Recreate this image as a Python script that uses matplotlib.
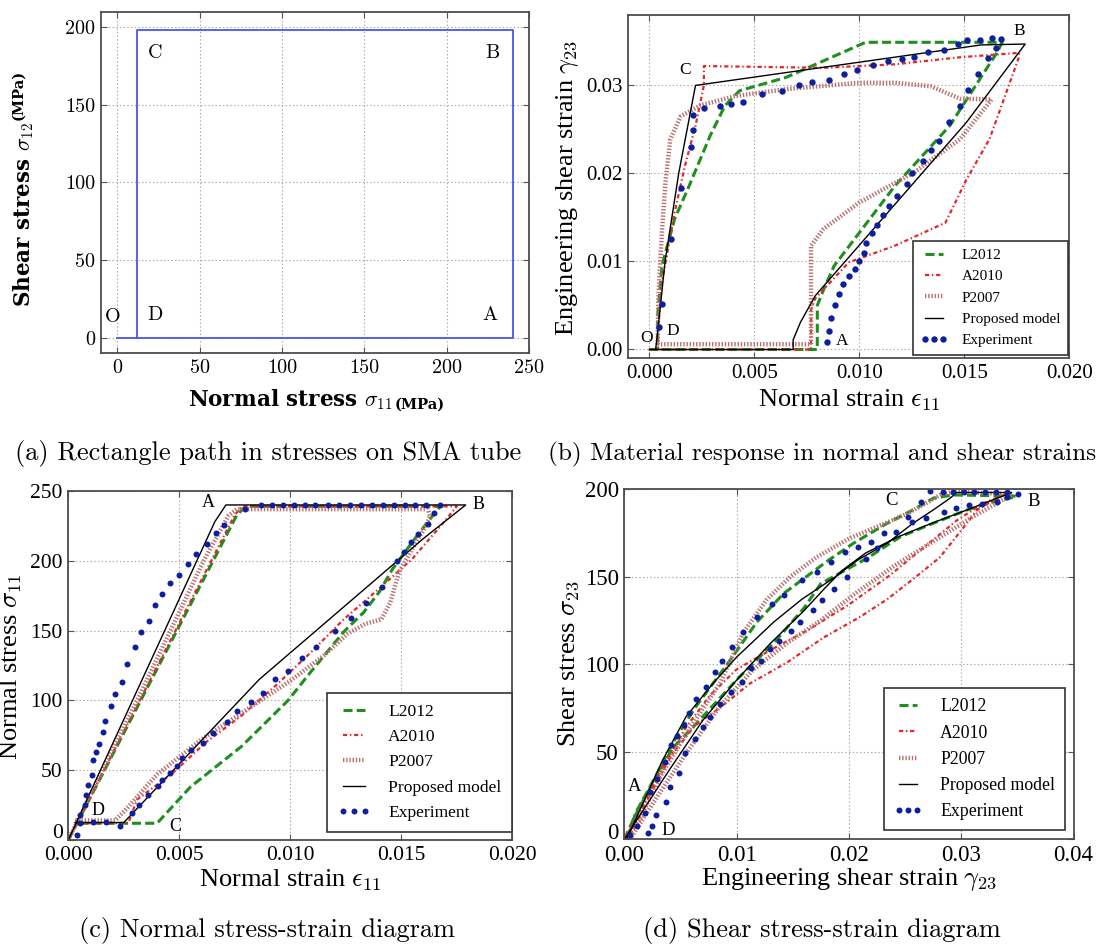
import matplotlib
matplotlib.use("Agg")
import matplotlib.pyplot as plt
from matplotlib.ticker import FormatStrFormatter, FuncFormatter, MultipleLocator

plt.rcParams["font.family"] = ["Liberation Serif", "DejaVu Serif"]
plt.rcParams["mathtext.fontset"] = "cm"
plt.rcParams["lines.scale_dashes"] = False

# ---------------- (a) stress path ----------------
path_sig11 = [0, 12, 240, 240, 12, 12]
path_sig12 = [0, 0, 0, 198, 198, 0]
pts_a = {"O": (-2.5, 13.5), "D": (23, 14.5), "A": (226, 14.5), "C": (23, 183), "B": (228, 183)}

# ---------------- (b) normal strain vs shear strain ----------------
b_l2012_x = [0.0, 0.0080, 0.0080, 0.0083, 0.0088, 0.0117, 0.0143, 0.0166, 0.0168, 0.0103, 0.0065,
             0.0043, 0.0036, 0.0029, 0.0019, 0.0012, 0.0006, 0.0004, 0.0004]
b_l2012_y = [0.0, 0.0, 0.0050, 0.0068, 0.0095, 0.0186, 0.0254, 0.0339, 0.0349, 0.0349, 0.0309,
             0.0294, 0.0277, 0.0243, 0.0186, 0.0148, 0.0095, 0.0038, 0.0]
b_a2010_x = [0.0, 0.0077, 0.0077, 0.0079, 0.0095, 0.0117, 0.0141, 0.0151, 0.0162, 0.0170, 0.0176,
             0.0176, 0.0148, 0.0117, 0.0083, 0.0026, 0.0026, 0.0022, 0.0017, 0.0012, 0.0006, 0.0004, 0.0004]
b_a2010_y = [0.0, 0.0, 0.0045, 0.0058, 0.0099, 0.0118, 0.0144, 0.0193, 0.0239, 0.0292, 0.0332,
             0.0337, 0.0332, 0.0324, 0.0320, 0.0322, 0.0300, 0.0254, 0.0209, 0.0155, 0.0076, 0.0019, 0.0]
b_p2007_x = [0.0004, 0.0077, 0.0077, 0.0083, 0.0100, 0.0126, 0.0148, 0.0163, 0.0148, 0.0141, 0.0134,
             0.0117, 0.0100, 0.0066, 0.0041, 0.0024, 0.0015, 0.0010, 0.00077, 0.0006, 0.00043, 0.0004]
b_p2007_y = [0.0006, 0.0006, 0.0118, 0.0137, 0.0167, 0.0201, 0.0239, 0.0284, 0.0285, 0.0292, 0.0299,
             0.0303, 0.0303, 0.0296, 0.0288, 0.0277, 0.0265, 0.0239, 0.0190, 0.0133, 0.0057, 0.0006]
b_prop_x = [0.0, 0.00685, 0.00685, 0.0072, 0.0079, 0.0151, 0.0179, 0.0158, 0.0022, 0.0014, 0.00075,
            0.0004, 0.0003]
b_prop_y = [0.0, 0.0, 0.0011, 0.0031, 0.0061, 0.0258, 0.0347, 0.0346, 0.0300, 0.0200, 0.0100,
            0.0020, 0.0]
b_exp_x = [0.00844, 0.00854, 0.00867, 0.00883, 0.00901, 0.00923, 0.00949, 0.00978, 0.01000, 0.01024,
           0.01034, 0.01060, 0.01082, 0.01114, 0.01143, 0.01179, 0.01225, 0.01253, 0.01301, 0.01340,
           0.01381, 0.01425, 0.01480, 0.01519, 0.01565, 0.01612, 0.01650, 0.01675, 0.01633, 0.01573,
           0.01514, 0.01471, 0.01403, 0.01327, 0.01259, 0.01204, 0.01139, 0.01066, 0.00988, 0.00927,
           0.00855, 0.00776, 0.00711, 0.00634, 0.00539, 0.00447, 0.00391, 0.00337, 0.00259, 0.00207,
           0.00209, 0.00199, 0.00150, 0.00105, 0.00061, 0.00044]
b_exp_y = [0.00087, 0.00209, 0.00353, 0.00504, 0.00626, 0.00739, 0.00834, 0.00918, 0.01005, 0.01092,
           0.01213, 0.01327, 0.01414, 0.01528, 0.01631, 0.01744, 0.01877, 0.02010, 0.02146, 0.02264,
           0.02370, 0.02590, 0.02761, 0.02950, 0.03128, 0.03307, 0.03424, 0.03527, 0.03538, 0.03519,
           0.03519, 0.03473, 0.03405, 0.03382, 0.03326, 0.03303, 0.03276, 0.03231, 0.03174, 0.03128,
           0.03056, 0.03041, 0.03003, 0.02939, 0.02901, 0.02814, 0.02787, 0.02761, 0.02738, 0.02662,
           0.02495, 0.02302, 0.01835, 0.01251, 0.00520, 0.00258]
pts_b = {"O": (-0.00012, 0.0013), "D": (0.00114, 0.0021), "A": (0.00916, 0.0010),
         "C": (0.0017, 0.0317), "B": (0.0176, 0.0362)}

# ---------------- (c) normal stress-strain ----------------
c_l2012_x = [0.0, 0.0076, 0.0080, 0.01675, 0.0163, 0.0155, 0.0146, 0.0140, 0.0133, 0.0124, 0.0109,
             0.0099, 0.0078, 0.0055, 0.0040, 0.0003]
c_l2012_y = [0, 233, 239, 239, 230, 213.5, 194, 177.5, 163, 149, 120, 100, 67, 38, 12, 12]
c_a2010_x = [0.0, 0.0075, 0.00785, 0.0175, 0.0168, 0.0155, 0.0140, 0.0124, 0.0109, 0.0093, 0.0078,
             0.0062, 0.0047, 0.0031, 0.0027, 0.0003]
c_a2010_y = [0, 233, 239, 239, 225.5, 201.5, 180, 158, 134, 110, 89, 70, 48, 29, 12, 12]
c_p2007_x = [0.0, 0.0031, 0.0061, 0.0072, 0.0076, 0.0162, 0.0163, 0.0160, 0.0154, 0.0149, 0.0145,
             0.0141, 0.0134, 0.0126, 0.0115, 0.0100, 0.0080, 0.0060, 0.0040, 0.0026, 0.0021, 0.0003]
c_p2007_y = [0, 100, 200, 232, 237, 237, 232, 222, 206, 192, 170, 158, 155, 148, 132, 114, 93, 72,
             47, 22, 14, 14]
c_prop_x = [0.0, 0.0066, 0.0071, 0.0179, 0.0160, 0.0086, 0.0025, 0.0003]
c_prop_y = [0, 228, 240, 240, 216, 115, 12.5, 12.5]
c_exp_x = [0.00037, 0.00054, 0.00073, 0.00080, 0.00090, 0.00108, 0.00111, 0.00124, 0.00139, 0.00158,
           0.00166, 0.00192, 0.00211, 0.00243, 0.00266, 0.00302, 0.00328, 0.00362, 0.00390, 0.00421,
           0.00457, 0.00498, 0.00540, 0.00576, 0.00625, 0.00664, 0.00700, 0.00796,
           0.0087, 0.00919, 0.00967, 0.01017, 0.01065, 0.01113, 0.01172, 0.0122, 0.01268, 0.01319,
           0.01368, 0.01416, 0.01466, 0.01517, 0.01563, 0.01613, 0.01675,
           0.01647, 0.01621, 0.01574, 0.01543, 0.01512, 0.01481, 0.01412, 0.01342, 0.01272, 0.01203,
           0.01118, 0.01053, 0.00988, 0.00929, 0.00878, 0.00824, 0.00762, 0.00715, 0.00653, 0.00607,
           0.00553, 0.00514, 0.00488, 0.00457, 0.00424, 0.00402, 0.00359, 0.00319, 0.00289, 0.00231,
           0.0017, 0.00111, 0.00053]
c_exp_y = [3.6, 18, 25, 32.4, 39.6, 46.8, 57.6, 62.9, 69, 77.5, 85.2, 96, 104.8, 113.5, 126.4, 138.4,
           148.7, 157.1, 168.4, 176, 184, 190, 198, 205, 212, 220, 225.5, 237,
           240, 240, 240, 240, 240, 240, 240, 240, 240, 240, 240, 240, 240, 240, 240, 240, 240,
           234, 226.7, 219.5, 213.5, 206, 199.6, 181, 170, 158.8, 150, 138, 130.3, 121, 115, 105.6,
           98.8, 92.4, 84.4, 76.3, 69.6, 64.8, 58.8, 52.8, 48, 43, 38.4, 32.4, 25.2, 19.2, 10.3,
           12.7, 13.2, 12.0]
pts_c = {"A": (0.0063, 241.8), "B": (0.01848, 240), "C": (0.00484, 9.5), "D": (0.00132, 20.8)}

# ---------------- (d) shear stress-strain ----------------
d_l2012_x = [0.0, 0.0010, 0.0028, 0.0043, 0.0067, 0.0100, 0.0133, 0.0160, 0.0175, 0.0216, 0.0246,
             0.0275, 0.0305, 0.0329, 0.0349, 0.0347, 0.0293, 0.0275, 0.0257, 0.0234, 0.0204, 0.0180,
             0.0158, 0.0142, 0.0118, 0.0094, 0.0064, 0.0043, 0.0028, 0.0010, 0.0003]
d_l2012_y = [0, 14, 35, 52, 68, 91, 112, 132, 146, 160.4, 172.8, 180.4, 188, 192.8, 195.6, 196, 196.6,
             194.7, 188, 180.4, 169, 158.5, 148, 140.4, 124, 102, 76, 55, 36, 15, 0]
d_a2010_x = [0.0004, 0.0020, 0.0042, 0.0063, 0.0085, 0.0112, 0.0145, 0.0177, 0.0210, 0.0234, 0.0260,
             0.0281, 0.0302, 0.0314, 0.0335, 0.0345, 0.0340, 0.0320, 0.0296, 0.0275, 0.0237, 0.0200,
             0.0165, 0.0130, 0.0100, 0.0076, 0.0055, 0.0035, 0.0015, 0.0]
d_a2010_y = [0, 22, 48, 65, 75, 89, 101, 115, 127, 137, 150, 161, 178, 188, 196, 197.5, 197, 192, 182,
             171, 151, 134, 120, 108, 97, 82, 64, 42, 18, 0]
d_p2007_x = [0.0005, 0.0030, 0.0055, 0.0085, 0.0115, 0.0145, 0.0175, 0.0205, 0.0240, 0.0280, 0.0310,
             0.0335, 0.0345, 0.0293, 0.0281, 0.0269, 0.0252, 0.0231, 0.0201, 0.0171, 0.0148, 0.0127,
             0.0106, 0.0085, 0.0055, 0.0034, 0.0013, 0.0]
d_p2007_y = [0, 25, 49, 76, 97, 112, 125, 140, 156, 172, 184, 193, 197, 198.5, 196.5, 192, 186, 180,
             172, 161, 150, 137, 118, 89, 60, 38, 11, 0]
d_prop_x = [0.0, 0.0040, 0.0070, 0.0100, 0.0130, 0.0160, 0.0178, 0.0194, 0.0215, 0.0245, 0.0274,
            0.0305, 0.0325, 0.0345, 0.0296, 0.0290, 0.0275, 0.0257, 0.0234, 0.0208, 0.0186, 0.0158,
            0.0133, 0.0100, 0.0079, 0.0055, 0.0034, 0.0002]
d_prop_y = [0, 39.5, 68, 90.9, 111.8, 130.5, 143, 153.5, 163.5, 173, 180.5, 188, 193, 198, 198, 194.7,
            188, 180.4, 169, 159.5, 149, 137, 124, 104, 89, 70, 45, 0]
d_exp_x = [0.0005, 0.0011, 0.0018, 0.0023, 0.0029, 0.00358, 0.00418, 0.00469, 0.00531, 0.00573,
           0.00636, 0.00725, 0.00806, 0.00872, 0.00956, 0.0106, 0.01184, 0.01313, 0.01425, 0.0158,
           0.01713, 0.0184, 0.01965, 0.02084, 0.02194, 0.02315, 0.02417, 0.02529, 0.02642, 0.02722,
           0.02835, 0.0293, 0.03025, 0.03117, 0.03212, 0.0331, 0.03405, 0.03509,
           0.03405, 0.03316, 0.03183, 0.03072, 0.02954, 0.02847, 0.02687, 0.02565, 0.02247, 0.0215,
           0.0198, 0.0187, 0.01763, 0.01678, 0.01565, 0.01484, 0.01378, 0.01297, 0.01217, 0.01126,
           0.01051, 0.0095, 0.00852, 0.00763, 0.00698, 0.0063, 0.00537, 0.00487, 0.0041, 0.0037,
           0.0028, 0.0025, 0.0021]
d_exp_y = [2.5, 7.8, 14.8, 27.2, 34.2, 44.1, 53.8, 58.9, 65.4, 72.2, 80, 86.7, 95.6, 101.7, 110, 118.5,
           127.1, 134.3, 139.5, 148, 152.8, 158.5, 164.2, 167, 169.9, 174.7, 175.6, 183.8, 192.8, 199,
           198.5, 198.5, 198.5, 198.5, 198.5, 198.5, 198.5, 197.1,
           195.3, 192.8, 191.4, 190.9, 189, 186.7, 183.6, 181, 166.1, 159.9, 150, 142.9, 136.6, 130.9,
           124.2, 118.9, 113.4, 108.5, 101.8, 97.6, 89.6, 83.9, 77.2, 69.6, 63.9, 57.5, 49, 38, 30,
           21.5, 13.9, 7.8, 3.4]
pts_d = {"A": (0.00095, 30), "B": (0.0365, 192.7), "C": (0.0238, 193.7), "D": (0.00392, 5.3)}

labels = ["L2012", "A2010", "P2007", "Proposed model", "Experiment"]

W, H = 1097, 948
fig = plt.figure(figsize=(W / 100, H / 100), dpi=100)


def add_ax(l, t, r, b):
    return fig.add_axes([l / W, 1 - b / H, (r - l) / W, (b - t) / H])


def style(ax, tick_size, family=None):
    ax.grid(True, color="#a8a8a8", linestyle=":", linewidth=0.8)
    ax.set_axisbelow(True)
    kw = dict(direction="in", length=4, width=0.8, top=True, right=True,
              color="#555555", labelsize=tick_size, pad=4)
    if family:
        kw["labelfontfamily"] = family
    ax.tick_params(**kw)
    for s in ax.spines.values():
        s.set_color("#4d4d4d")
        s.set_linewidth(1.3)


def models(ax, l2012, a2010, p2007, prop, exp, ms):
    ax.plot(*l2012, color="#1f8f1f", lw=2.2, dashes=(6.5, 3), label=labels[0])
    ax.plot(*a2010, color="#e3262a", lw=1.6, dashes=(3, 2, 1, 2), label=labels[1])
    ax.plot(*p2007, color="#b9716f", lw=3.2, dashes=(1.0, 1.3), label=labels[2])
    ax.plot(*prop, color="black", lw=1.0, label=labels[3])
    ax.plot(*exp, "o", color="#0d1f9c", ms=ms, mew=0, label=labels[4])


def legend(ax, size, anchor, hl, htp, bp, ls):
    leg = ax.legend(loc="lower right", bbox_to_anchor=anchor, borderaxespad=0,
                    fontsize=size, numpoints=3, fancybox=False, framealpha=1,
                    edgecolor="#333333", handlelength=hl, handletextpad=htp,
                    borderpad=bp, labelspacing=ls)
    leg.get_frame().set_linewidth(1.2)


def zero_lifted(ax, size):
    # the y "0" sits just above the x "0.000" in the corner
    ax.yaxis.set_major_formatter(FuncFormatter(lambda v, p: "" if v == 0 else "%d" % v))
    ax.annotate("0", xy=(0, 0), xycoords=ax.get_yaxis_transform(), xytext=(-4, 4.5),
                textcoords="offset points", ha="right", va="center", fontsize=size)


# (a)
ax_a = add_ax(100.7, 11.6, 529, 353.3)
ax_a.plot(path_sig11, path_sig12, color="#4b55ef", lw=1.3)
ax_a.set_xlim(-10, 250)
ax_a.set_ylim(-10, 210)
ax_a.xaxis.set_major_locator(MultipleLocator(50))
ax_a.yaxis.set_major_locator(MultipleLocator(50))
style(ax_a, 14.5, "cmr10")
for k, (x, y) in pts_a.items():
    ax_a.text(x, y, k, ha="center", va="center", fontsize=14.5, family="cmr10")
xl_a = ax_a.text(0.204, -0.137, r"Normal stress $\sigma_{11}$", transform=ax_a.transAxes,
                 ha="left", va="center", fontsize=15.5, family="DejaVu Serif", weight="bold")
yl_a = ax_a.text(-0.181, 0.136, r"Shear stress $\sigma_{12}$", transform=ax_a.transAxes,
                 ha="center", va="bottom", rotation=90, fontsize=15.5, family="DejaVu Serif",
                 weight="bold")

# (b)
ax_b = add_ax(628.3, 15, 1069.3, 358.3)
models(ax_b, (b_l2012_x, b_l2012_y), (b_a2010_x, b_a2010_y), (b_p2007_x, b_p2007_y),
       (b_prop_x, b_prop_y), (b_exp_x, b_exp_y), 4.6)
ax_b.set_xlim(-0.001, 0.020)
ax_b.set_ylim(-0.001, 0.038)
ax_b.xaxis.set_major_locator(MultipleLocator(0.005))
ax_b.yaxis.set_major_locator(MultipleLocator(0.01))
ax_b.xaxis.set_major_formatter(FormatStrFormatter("%.3f"))
ax_b.yaxis.set_major_formatter(FormatStrFormatter("%.2f"))
style(ax_b, 15)
ax_b.set_xlabel(r"Normal strain $\epsilon_{11}$", fontsize=19, va="center")
ax_b.xaxis.set_label_coords(0.5, -0.121)
ax_b.set_ylabel(r"Engineering shear strain $\gamma_{23}$", fontsize=19, va="center")
ax_b.yaxis.set_label_coords(-0.139, 0.496)
for k, (x, y) in pts_b.items():
    ax_b.text(x, y, k, ha="center", va="center", fontsize=12.5)
legend(ax_b, 11, (0.997, 0.0096), 1.8, 0.92, 0.5, 0.5)

# (c)
ax_c = add_ax(68.3, 491, 512.3, 840)
models(ax_c, (c_l2012_x, c_l2012_y), (c_a2010_x, c_a2010_y), (c_p2007_x, c_p2007_y),
       (c_prop_x, c_prop_y), (c_exp_x, c_exp_y), 4.3)
ax_c.set_xlim(0, 0.020)
ax_c.set_ylim(0, 250)
ax_c.xaxis.set_major_locator(MultipleLocator(0.005))
ax_c.yaxis.set_major_locator(MultipleLocator(50))
ax_c.xaxis.set_major_formatter(FormatStrFormatter("%.3f"))
style(ax_c, 15.5)
zero_lifted(ax_c, 15.5)
ax_c.set_xlabel(r"Normal strain $\epsilon_{11}$", fontsize=19, va="center")
ax_c.xaxis.set_label_coords(0.5, -0.115)
ax_c.set_ylabel(r"Normal stress $\sigma_{11}$", fontsize=19, va="center")
ax_c.yaxis.set_label_coords(-0.129, 0.497)
for k, (x, y) in pts_c.items():
    ax_c.text(x, y, k, ha="center", va="center", fontsize=13)
legend(ax_c, 12.6, (0.999, 0.0238), 1.9, 1.0, 0.6, 0.52)

# (d)
ax_d = add_ax(624.3, 489, 1073.5, 839.3)
models(ax_d, (d_l2012_x, d_l2012_y), (d_a2010_x, d_a2010_y), (d_p2007_x, d_p2007_y),
       (d_prop_x, d_prop_y), (d_exp_x, d_exp_y), 4.3)
ax_d.set_xlim(0, 0.04)
ax_d.set_ylim(0, 200)
ax_d.xaxis.set_major_locator(MultipleLocator(0.01))
ax_d.yaxis.set_major_locator(MultipleLocator(50))
ax_d.xaxis.set_major_formatter(FormatStrFormatter("%.2f"))
style(ax_d, 16.5)
zero_lifted(ax_d, 16.5)
ax_d.set_xlabel(r"Engineering shear strain $\gamma_{23}$", fontsize=19, va="center")
ax_d.xaxis.set_label_coords(0.5, -0.116)
ax_d.set_ylabel(r"Shear stress $\sigma_{23}$", fontsize=19, va="center")
ax_d.yaxis.set_label_coords(-0.125, 0.5)
for k, (x, y) in pts_d.items():
    ax_d.text(x, y, k, ha="center", va="center", fontsize=13.5)
legend(ax_d, 12.8, (0.981, 0.0265), 1.6, 1.0, 0.55, 0.52)

# captions
cap = dict(family="cmr10", va="baseline")
fig.text(268 / W, 1 - 460.5 / H, "(a) Rectangle path in stresses on SMA tube", ha="center",
         fontsize=19, **cap)
fig.text(1096 / W, 1 - 460 / H, "(b) Material response in normal and shear strains", ha="right",
         fontsize=18.2, **cap)
fig.text(266.7 / W, 1 - 937 / H, "(c) Normal stress-strain diagram", ha="center", fontsize=19, **cap)
fig.text(822 / W, 1 - 937 / H, "(d) Shear stress-strain diagram", ha="center", fontsize=19, **cap)

# small "(MPa)" units next to the bold labels of (a)
fig.canvas.draw()
r = fig.canvas.get_renderer()
bx = xl_a.get_window_extent(r)
fig.text((bx.x1 + 2) / W, (bx.y0 + 0.30 * bx.height) / H, "(MPa)", ha="left", va="center",
         fontsize=10.5, family="DejaVu Serif", weight="bold")
by = yl_a.get_window_extent(r)
fig.text((by.x0 + 0.30 * by.width) / W, (by.y1 + 2) / H, "(MPa)", ha="center", va="bottom",
         rotation=90, fontsize=10.5, family="DejaVu Serif", weight="bold")

fig.savefig("out.png", dpi=100)
